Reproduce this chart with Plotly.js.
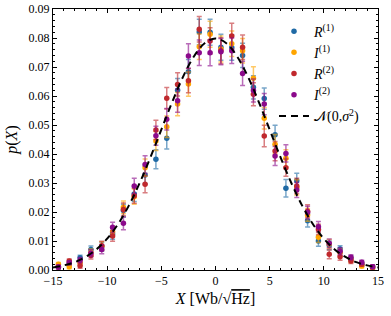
<!DOCTYPE html>
<html><head><meta charset="utf-8">
<script src="https://cdn.plot.ly/plotly-3.0.1.min.js"></script>
<style>body{margin:0;padding:0;background:#fff}#chart{width:391px;height:316px}</style>
</head><body><div id="chart"></div>
<script>
const binCenters = [-14.5,-13.5,-12.5,-11.5,-10.5,-9.5,-8.5,-7.5,-6.5,-5.5,-4.5,-3.5,-2.5,-1.5,-0.5,0.5,1.5,2.5,3.5,4.5,5.5,6.5,7.5,8.5,9.5,10.5,11.5,12.5,13.5,14.5];
const R1 = [0.0010,0.0020,0.0042,0.0071,0.0080,0.0124,0.0205,0.0262,0.0328,0.0382,0.0454,0.0620,0.0684,0.0821,0.0820,0.0768,0.0767,0.0740,0.0630,0.0591,0.0466,0.0282,0.0308,0.0170,0.0100,0.0085,0.0072,0.0040,0.0020,0.0010];
const I1 = [0.0020,0.0011,0.0025,0.0060,0.0082,0.0132,0.0216,0.0253,0.0353,0.0445,0.0494,0.0572,0.0641,0.0770,0.0813,0.0762,0.0780,0.0756,0.0661,0.0523,0.0434,0.0385,0.0285,0.0190,0.0113,0.0090,0.0060,0.0035,0.0014,0.0008];
const R2 = [0.0010,0.0031,0.0015,0.0050,0.0084,0.0117,0.0209,0.0256,0.0296,0.0483,0.0592,0.0640,0.0653,0.0830,0.0790,0.0756,0.0807,0.0768,0.0606,0.0462,0.0410,0.0353,0.0290,0.0203,0.0140,0.0054,0.0046,0.0031,0.0020,0.0010];
const I2 = [0.0010,0.0025,0.0034,0.0058,0.0071,0.0147,0.0161,0.0290,0.0364,0.0463,0.0520,0.0584,0.0738,0.0749,0.0749,0.0753,0.0756,0.0678,0.0619,0.0572,0.0393,0.0402,0.0276,0.0198,0.0149,0.0092,0.0065,0.0044,0.0027,0.0011];
const errs = [0.0006,0.0007,0.0009,0.0012,0.0015,0.0018,0.0022,0.0026,0.0030,0.0033,0.0037,0.0040,0.0042,0.0044,0.0045,0.0045,0.0044,0.0042,0.0040,0.0037,0.0033,0.0030,0.0026,0.0022,0.0018,0.0015,0.0012,0.0009,0.0007,0.0006];
const curveX = [-15,-14,-13,-12,-11,-10,-9,-8,-7,-6,-5,-4,-3,-2,-1,0,1,2,3,4,5,6,7,8,9,10,11,12,13,14,15];
const curveY = [0.0009,0.0016,0.0027,0.0045,0.0071,0.0108,0.0158,0.0222,0.0300,0.0389,0.0484,0.0579,0.0666,0.0736,0.0782,0.0798,0.0782,0.0736,0.0666,0.0579,0.0484,0.0389,0.0300,0.0222,0.0158,0.0108,0.0071,0.0045,0.0027,0.0016,0.0009];
const names = ['<i>R</i><sup>(1)</sup>','<i>I</i><sup>(1)</sup>','<i>R</i><sup>(2)</sup>','<i>I</i><sup>(2)</sup>'];
const series = [R1,I1,R2,I2];
const colors = ['#1f6aa5','#ffa500','#c0282d','#8b0a8b'];
const errColors = ['rgba(31,106,165,0.6)','rgba(255,165,0,0.6)','rgba(192,40,45,0.6)','rgba(139,10,139,0.6)'];
const FONT = 'Liberation Serif, DejaVu Serif, serif';
const traces = series.map((ys,i)=>({
  x: binCenters, y: ys, type:'scatter', mode:'markers', name: names[i],
  marker:{color:colors[i], size:5.5},
  error_y:{type:'data', array:errs, visible:true, color:errColors[i], thickness:1.5, width:2.5}
}));
traces.push({x:curveX, y:curveY, type:'scatter', mode:'lines', name:'𝒩(0,<i>σ</i><sup>2</sup>)',
  line:{color:'#000', width:2, dash:'7px,5px', shape:'spline'}});
const axisCommon = {showgrid:false, zeroline:false, showline:true, linecolor:'#000', linewidth:1, mirror:'allticks',
  ticks:'inside', ticklen:4, tickcolor:'#000', tickfont:{family:FONT, size:12, color:'#000'}};
const layout = {
  width:391, height:316, margin:{l:53, r:13, t:9, b:46},
  paper_bgcolor:'#fff', plot_bgcolor:'#fff', font:{family:FONT, color:'#000'},
  xaxis: Object.assign({}, axisCommon, {range:[-15,15], tickvals:[-15,-10,-5,0,5,10,15], 
    minor:{ticks:'inside', dtick:1, ticklen:2, tickcolor:'#000'},
    title:{text:'<i>X</i> [Wb/√<span style="text-decoration:overline">Hz</span>]', font:{family:FONT, size:16}, standoff:5}}),
  yaxis: Object.assign({}, axisCommon, {range:[0,0.09], dtick:0.01, tickformat:'.2f',
    minor:{ticks:'inside', dtick:0.002, ticklen:2, tickcolor:'#000'},
    title:{text:'<i>p</i>(<i>X</i>)', font:{family:FONT, size:16}, standoff:6}}),
  legend:{x:0.68, y:0.975, xanchor:'left', yanchor:'top', bgcolor:'rgba(0,0,0,0)', font:{family:FONT, size:14}, tracegroupgap:0},
  showlegend:true
};
Plotly.newPlot('chart', traces, layout, {staticPlot:true});
</script></body></html>
